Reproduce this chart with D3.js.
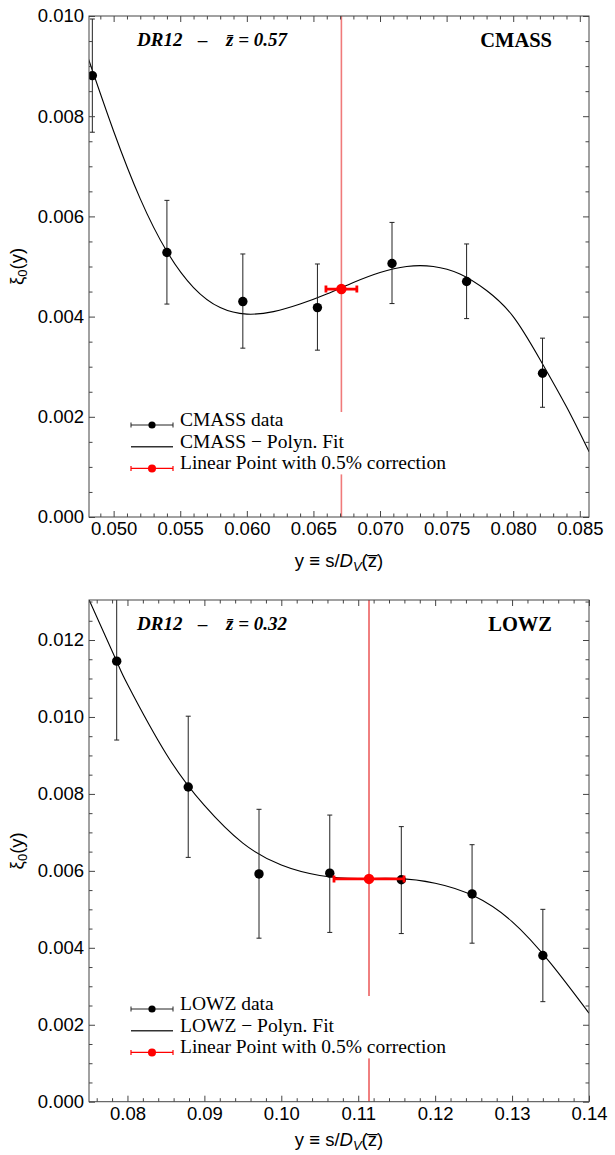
<!DOCTYPE html>
<html>
<head>
<meta charset="utf-8">
<script src="https://cdn.jsdelivr.net/npm/d3@7"></script>
<style>
body { margin: 0; background: #fff; }
text { fill: #000; }
.tick-label { font-family: "Liberation Sans", Arial, sans-serif; font-size: 18.5px; }
.serif { font-family: "Liberation Serif", "Times New Roman", serif; }
</style>
</head>
<body>
<svg id="chart" width="615" height="1155"></svg>
<script>
//CMASS - точки данных
const cmassY = [0.0484, 0.0540, 0.0597, 0.0653, 0.0709, 0.0765, 0.0822];
const cmassXi = [0.00881, 0.00528, 0.00430, 0.00418, 0.00506, 0.00470, 0.00287];
const cmassLo = [0.00768, 0.00425, 0.00337, 0.00333, 0.00426, 0.00396, 0.00219];
const cmassHi = [0.00994, 0.00632, 0.00525, 0.00505, 0.00588, 0.00545, 0.00357];
//CMASS - полиномиальный фит
const cmassFitY = [0.0481, 0.0500, 0.0520, 0.0540, 0.0560, 0.0580, 0.0600, 0.0620, 0.0640, 0.0660,
    0.0680, 0.0700, 0.0720, 0.0740, 0.0760, 0.0780, 0.0800, 0.0820, 0.0840, 0.0857];
const cmassFitXi = [0.00915, 0.00770, 0.00635, 0.00530, 0.00458, 0.00418, 0.00405, 0.00410, 0.00425, 0.00445,
    0.00468, 0.00488, 0.00500, 0.00500, 0.00485, 0.00452, 0.00400, 0.00315, 0.00220, 0.00130];
//Linear Point: положение, значение, ошибка
const cmassLP = [0.0671, 0.00455, 0.00116];
const cmassXTicks = [0.050, 0.055, 0.060, 0.065, 0.070, 0.075, 0.080, 0.085];
const cmassYTicks = [0.000, 0.002, 0.004, 0.006, 0.008, 0.010];

//LOWZ
const lowzY = [0.0786, 0.0879, 0.0971, 0.1063, 0.1156, 0.1248, 0.1340];
const lowzXi = [0.01145, 0.00818, 0.00592, 0.00594, 0.00577, 0.00540, 0.00380];
const lowzLo = [0.00940, 0.00635, 0.00425, 0.00440, 0.00437, 0.00412, 0.00260];
const lowzHi = [0.01350, 0.01002, 0.00760, 0.00745, 0.00715, 0.00668, 0.00500];
const lowzFitY = [0.075, 0.0786, 0.080, 0.085, 0.090, 0.095, 0.100, 0.105, 0.110, 0.115,
    0.120, 0.125, 0.130, 0.135, 0.140];
const lowzFitXi = [0.01305, 0.01145, 0.01085, 0.00905, 0.00770, 0.00672, 0.00615, 0.00588, 0.00580, 0.00580,
    0.00568, 0.00535, 0.00468, 0.00360, 0.00230];
const lowzLP = [0.1114, 0.00579, 0.00455];
const lowzXTicks = [0.08, 0.09, 0.10, 0.11, 0.12, 0.13, 0.14];
const lowzYTicks = [0.000, 0.002, 0.004, 0.006, 0.008, 0.010, 0.012];

const svg = d3.select("#chart");

const left = 89, right = 589;

drawPanel({
    id: "cmass", top: 16, bottom: 517,
    xDomain: [0.04815, 0.08569], yDomain: [0, 0.010],
    xTicks: cmassXTicks, yTicks: cmassYTicks, xMinor: 0.001, yMinor: 0.0005,
    xFormat: d3.format(".3f"),
    ys: cmassY, xis: cmassXi, lo: cmassLo, hi: cmassHi,
    fitY: cmassFitY, fitXi: cmassFitXi, lp: cmassLP,
    lineColor: "#f07a7a", lineWidth: 1.6,
    z: "0.57", name: "CMASS", legendY: 425, xLabelOffset: 50
});

drawPanel({
    id: "lowz", top: 600, bottom: 1101.7,
    xDomain: [0.075, 0.140], yDomain: [0, 0.01304],
    xTicks: lowzXTicks, yTicks: lowzYTicks, xMinor: 0.002, yMinor: 0.0005,
    xFormat: d3.format(".2f"),
    ys: lowzY, xis: lowzXi, lo: lowzLo, hi: lowzHi,
    fitY: lowzFitY, fitXi: lowzFitXi, lp: lowzLP,
    lineColor: "#e00000", lineWidth: 1,
    z: "0.32", name: "LOWZ", legendY: 1009, xLabelOffset: 44
});

function drawPanel(p) {
    const x = d3.scaleLinear().domain(p.xDomain).range([left, right]);
    const y = d3.scaleLinear().domain(p.yDomain).range([p.bottom, p.top]);
    const g = svg.append("g");

    //Обрезка по рамке
    g.append("clipPath").attr("id", "clip-" + p.id)
        .append("rect")
        .attr("x", left).attr("y", p.top)
        .attr("width", right - left).attr("height", p.bottom - p.top);
    const plot = g.append("g").attr("clip-path", `url(#clip-${p.id})`);

    //Вертикальная линия Linear Point
    plot.append("line")
        .attr("x1", x(p.lp[0])).attr("x2", x(p.lp[0]))
        .attr("y1", p.top).attr("y2", p.bottom)
        .attr("stroke", p.lineColor).attr("stroke-width", p.lineWidth);

    //Фит
    const line = d3.line()
        .x((d, i) => x(d))
        .y((d, i) => y(p.fitXi[i]))
        .curve(d3.curveNatural);
    plot.append("path")
        .datum(p.fitY)
        .attr("fill", "none")
        .attr("stroke", "#000")
        .attr("stroke-width", 1.1)
        .attr("d", line);

    //Ошибки
    const idx = d3.range(p.ys.length);
    plot.selectAll(".err").data(idx).enter()
        .append("path")
        .attr("fill", "none").attr("stroke", "#222").attr("stroke-width", 1)
        .attr("d", i => {
            const cx = x(p.ys[i]), y0 = y(p.lo[i]), y1 = y(p.hi[i]);
            return `M${cx},${y0}V${y1}M${cx - 2.5},${y0}H${cx + 2.5}M${cx - 2.5},${y1}H${cx + 2.5}`;
        });
    plot.selectAll(".pt").data(idx).enter()
        .append("circle")
        .attr("cx", i => x(p.ys[i]))
        .attr("cy", i => y(p.xis[i]))
        .attr("r", 4.7)
        .attr("fill", "#000");

    //Linear Point с горизонтальной ошибкой
    const lx0 = x(p.lp[0] - p.lp[2]), lx1 = x(p.lp[0] + p.lp[2]), ly = y(p.lp[1]);
    plot.append("path")
        .attr("fill", "none").attr("stroke", "#ff0000").attr("stroke-width", 2.8)
        .attr("d", `M${lx0},${ly}H${lx1}M${lx0},${ly - 3.5}V${ly + 3.5}M${lx1},${ly - 3.5}V${ly + 3.5}`);
    plot.append("circle")
        .attr("cx", x(p.lp[0])).attr("cy", ly).attr("r", 5.2)
        .attr("fill", "#ff0000");

    //Рамка и засечки внутрь
    const sides = [
        ["bottom", `translate(0,${p.bottom})`, true],
        ["top", `translate(0,${p.top})`, false],
        ["left", `translate(${left},0)`, true],
        ["right", `translate(${right},0)`, false]
    ];
    sides.forEach(([side, tr, labels]) => {
        const horiz = side === "bottom" || side === "top";
        const make = () => side === "bottom" ? d3.axisBottom(x) : side === "top" ? d3.axisTop(x)
            : side === "left" ? d3.axisLeft(y) : d3.axisRight(y);
        const ticks = horiz ? p.xTicks : p.yTicks;
        const step = horiz ? p.xMinor : p.yMinor;
        const dom = horiz ? p.xDomain : p.yDomain;
        const minor = d3.range(Math.ceil(dom[0] / step - 1e-6), Math.floor(dom[1] / step + 1e-6) + 1)
            .map(k => k * step)
            .filter(v => !ticks.some(t => Math.abs(t - v) < step / 10));

        const ming = g.append("g").attr("transform", tr)
            .call(make().tickValues(minor).tickSize(-3.5).tickFormat(""));
        ming.select(".domain").remove();
        ming.selectAll("line").attr("stroke", "#444");

        const major = make().tickValues(ticks).tickSize(-6).tickPadding(5)
            .tickFormat(labels ? (horiz ? p.xFormat : d3.format(".3f")) : "");
        const mg = g.append("g").attr("transform", tr).call(major);
        mg.select(".domain").remove();
        mg.selectAll("line").attr("stroke", "#444");
        mg.attr("font-family", null).attr("font-size", null);
        mg.selectAll("text").attr("class", "tick-label").attr("fill", "#000");
    });
    g.append("rect")
        .attr("x", left).attr("y", p.top)
        .attr("width", right - left).attr("height", p.bottom - p.top)
        .attr("fill", "none").attr("stroke", "#444").attr("stroke-width", 1);

    //Заголовки
    const title = g.append("text").attr("class", "serif")
        .attr("y", p.top + 30)
        .attr("font-size", 19).attr("font-weight", "bold").attr("font-style", "italic");
    title.append("tspan").attr("x", 137).text("DR12");
    title.append("tspan").attr("x", 198).text("\u2013");
    title.append("tspan").attr("x", 226).text("z\u0304 = " + p.z);
    g.append("text").attr("class", "serif")
        .attr("x", 552).attr("y", p.top + 31)
        .attr("text-anchor", "end")
        .attr("font-size", 20.5).attr("font-weight", "bold")
        .text(p.name);

    //Легенда
    const ly0 = p.legendY, dy = 21.7;
    g.append("rect")
        .attr("x", 125).attr("y", ly0 - 13).attr("width", 322).attr("height", 2 * dy + 19)
        .attr("fill", "#fff");
    const sx0 = 131, sx1 = 173, sxm = 152;
    g.append("path").attr("fill", "none").attr("stroke", "#222").attr("stroke-width", 1)
        .attr("d", `M${sx0},${ly0}H${sx1}M${sx0},${ly0 - 2.5}V${ly0 + 2.5}M${sx1},${ly0 - 2.5}V${ly0 + 2.5}`);
    g.append("circle").attr("cx", sxm).attr("cy", ly0).attr("r", 3.6).attr("fill", "#000");
    g.append("line").attr("x1", sx0).attr("x2", sx1).attr("y1", ly0 + dy).attr("y2", ly0 + dy)
        .attr("stroke", "#333").attr("stroke-width", 1.5);
    g.append("path").attr("fill", "none").attr("stroke", "#ff0000").attr("stroke-width", 1.2)
        .attr("d", `M${sx0},${ly0 + 2 * dy}H${sx1}M${sx0},${ly0 + 2 * dy - 2.5}V${ly0 + 2 * dy + 2.5}M${sx1},${ly0 + 2 * dy - 2.5}V${ly0 + 2 * dy + 2.5}`);
    g.append("circle").attr("cx", sxm).attr("cy", ly0 + 2 * dy).attr("r", 4).attr("fill", "#ff0000");
    [p.name + " data", p.name + " \u2212 Polyn. Fit", "Linear Point with 0.5% correction"].forEach((t, i) => {
        g.append("text").attr("class", "serif")
            .attr("x", 180).attr("y", ly0 + i * dy + 1)
            .attr("font-size", 19.5)
            .text(t);
    });

    //Подписи осей
    const xl = g.append("text").attr("class", "tick-label")
        .attr("x", (left + right) / 2).attr("y", p.bottom + p.xLabelOffset)
        .attr("text-anchor", "middle");
    xl.append("tspan").text("y \u2261 s/");
    xl.append("tspan").attr("font-style", "italic").text("D");
    xl.append("tspan").attr("font-style", "italic").attr("font-size", 13).attr("dy", 4).text("V");
    xl.append("tspan").attr("dy", -4).text("(z\u0305)");

    const yl = g.append("text").attr("class", "tick-label")
        .attr("transform", `translate(23,${(p.top + p.bottom) / 2}) rotate(-90)`)
        .attr("text-anchor", "middle");
    yl.append("tspan").text("\u03be");
    yl.append("tspan").attr("font-size", 13).attr("dy", 4).text("0");
    yl.append("tspan").attr("dy", -4).text("(y)");
}
</script>
</body>
</html>
